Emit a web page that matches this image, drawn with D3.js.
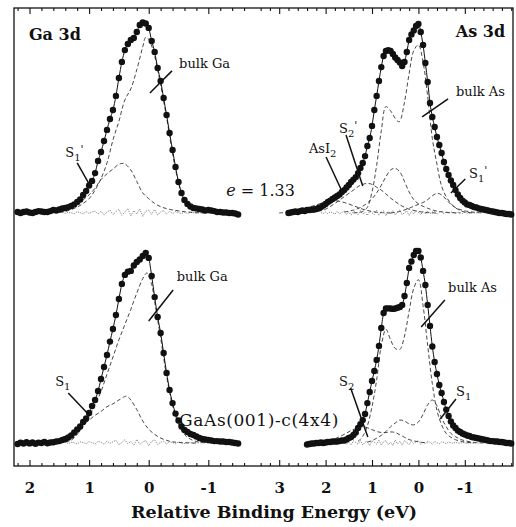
<!DOCTYPE html>
<html>
<head>
<meta charset="utf-8">
<script src="https://cdn.jsdelivr.net/npm/d3@7"></script>
<style>
  body { margin: 0; background: #fff; }
  text { font-family: "DejaVu Serif", "Liberation Serif", serif; fill: #111; }
  .tick text { font-family: "DejaVu Serif", serif; font-weight: bold; font-size: 15px; fill: #111; }
</style>
</head>
<body>
<script>
const width = 516;
const height = 527;

// energy grids (eV, relative binding energy), sampled every 0.05 eV
const step = 0.05;
const gaTopStart = 2.2, gaBotStart = 2.2, asTopStart = 2.8, asBotStart = 2.4;

// measured spectra (counts, arb. units)
const gaTopData = [0.5,0,0.5,0.8,0.3,0,0.5,1.0,0.8,0.5,0.5,1.0,1.6,1.3,1.8,
  2.4,2.6,3.1,3.7,4.5,5.8,7.1,9.4,11.5,14.4,
  16.8,20.9,27.2,31.9,37.7,43.5,49.2,53.9,61.3,70.7,
  79.1,85.3,88.5,90.6,91.6,94.8,98.4,99.7,99.2,96.9,
  90.1,84.3,75.9,69.1,60.2,51.3,41.9,33.0,24.1,16.2,
  10.5,6.8,4.7,3.4,2.6,2.4,2.1,1.8,1.3,1.6,
  1.3,1.0,0.5,0.5,0.3,0.3,0,0,-0.3,-0.8];

const gaBotData = [-0.5,0.2,-0.3,0.4,-0.2,0.3,-0.4,0.2,0,0.5,-0.1,0.3,0.4,0.8,1.0,
  1.6,2.1,2.9,3.9,5.5,7.1,8.6,11.0,12.8,15.7,
  19.4,22.5,27.2,33.5,39.8,46.1,53.1,59.7,67.0,75.4,
  83.3,88.0,89.7,90.1,92.9,94.8,96.1,97.9,99.5,96.9,
  87.4,76.4,66.0,57.6,47.1,36.7,27.8,20.9,15.4,11.8,
  8.6,6.8,5.8,4.7,4.2,3.4,2.6,2.1,1.8,1.6,
  1.3,1.0,1.0,0.8,0.8,0.5,0.5,0.3,0,-0.3];

const asTopData = [0,0.3,0.5,0.8,0.5,1.0,1.3,1.0,1.6,1.6,
  1.8,1.8,2.1,2.6,3.1,3.9,4.7,5.8,6.5,7.3,
  8.1,8.9,9.7,11.0,12.0,13.4,14.7,16.2,17.5,18.8,
  20.9,23.6,26.2,29.8,35.1,39.3,45.6,53.9,61.3,69.1,
  76.4,82.2,84.8,85.3,84.8,83.3,81.4,80.1,78.8,77.0,
  79.1,84.3,90.6,93.5,95.6,97.9,99.0,94.8,88.0,78.5,
  68.6,57.6,50.3,45.0,39.8,35.6,31.4,26.7,23.0,19.9,
  17.0,14.7,12.0,9.7,7.9,6.5,5.5,4.5,4.2,3.7,
  3.1,2.9,2.4,2.1,1.8,1.6,1.3,1.0,0.8,0.5,
  0.3,0,0,-0.3,-0.5,-0.5,-0.8];

const asBotData = [-0.8,-0.5,-0.3,-0.3,0,0,0.3,0,0.3,0.5,
  0.5,0.8,0.8,0.8,1.0,1.3,1.3,1.8,2.6,3.1,
  4.2,5.5,7.9,9.9,12.0,15.2,20.9,26.7,32.5,37.7,
  43.5,50.8,60.2,68.1,70.4,70.5,70.4,70.2,70.4,70.8,
  71.2,72.3,77.0,83.8,91.6,95.0,98.4,100.5,100.5,97.1,
  90.1,82.7,72.3,61.3,50.5,42.4,36.1,30.4,26.2,21.5,
  17.5,14.1,11.3,9.2,7.9,6.5,5.8,5.0,4.5,3.9,
  3.7,3.1,2.9,2.6,2.4,2.1,1.8,1.6,1.3,1.0,
  1.0,0.8,0.8,0.5,0.5,0.3,0,0,-0.3];

// fitted components [energy, counts]
const gaTopBulk = [[1.5,0.3],[1.4,0.8],[1.3,1.8],[1.2,3.1],[1.1,5],[1.0,7.5],[0.9,12],[0.8,18],[0.7,26.2],[0.6,38.2],[0.5,48],[0.4,59.2],[0.3,65],[0.2,75],[0.1,87],[0.05,92],[0,91],[-0.1,82],[-0.2,67],[-0.3,50],[-0.4,31],[-0.5,16],[-0.6,6.5],[-0.7,2.8],[-0.8,1.2],[-0.9,0.5],[-1.0,0.2],[-1.2,0]];
const gaTopS1 = [[1.6,0.3],[1.5,0.6],[1.4,1.2],[1.3,2.8],[1.2,4.8],[1.1,7],[1.0,9.5],[0.9,13],[0.8,17.5],[0.7,20.5],[0.6,23],[0.5,25.5],[0.43,26],[0.4,25.8],[0.3,22.5],[0.2,16.5],[0.1,10.5],[0,7.5],[-0.1,5],[-0.2,3.3],[-0.3,2.3],[-0.4,1.6],[-0.6,0.7],[-0.8,0.2],[-1.0,0]];

const asTopBulk = [[1.4,0],[1.3,0.3],[1.2,0.8],[1.1,3],[1.0,11],[0.9,25],[0.8,43],[0.7,55.7],[0.6,53.5],[0.5,49.5],[0.43,47.8],[0.4,48],[0.3,58],[0.2,73],[0.1,85],[0,88],[-0.1,79],[-0.2,61],[-0.3,39],[-0.4,25.5],[-0.5,14],[-0.6,8.5],[-0.7,5],[-0.8,2.7],[-0.9,1.3],[-1.0,0.5],[-1.2,0]];
const asTopS2 = [[2.3,0.3],[2.1,1.2],[2.0,2],[1.8,5],[1.6,8.5],[1.4,12],[1.25,14.5],[1.1,15.5],[1.0,15],[0.9,13.5],[0.8,12],[0.7,10],[0.6,7.8],[0.5,6],[0.4,4.3],[0.3,3],[0.2,2],[0,0.8],[-0.2,0.2],[-0.4,0]];
const asTopHump = [[1.6,0.5],[1.4,1.5],[1.2,3.5],[1.0,7.5],[0.9,10.5],[0.8,14.5],[0.7,19],[0.6,22.5],[0.5,23.4],[0.4,21.5],[0.3,16.5],[0.2,11],[0.1,7],[0,4.8],[-0.1,3.5],[-0.2,2.5],[-0.3,1.6],[-0.5,0.6],[-0.7,0.2],[-0.9,0]];
const asTopS1 = [[0.6,0],[0.4,0.8],[0.2,2.5],[0.1,3.5],[0,4.5],[-0.1,5.5],[-0.2,7],[-0.3,9],[-0.4,10.3],[-0.5,9.5],[-0.6,7],[-0.7,4.5],[-0.8,2.8],[-0.9,1.8],[-1.0,1.1],[-1.2,0.4],[-1.4,0]];
const asTopAsI2 = [[3.0,0],[2.7,0.8],[2.5,2],[2.3,3.5],[2.1,5],[1.9,6],[1.75,6.3],[1.6,5.5],[1.4,3.8],[1.2,2],[1.0,0.8],[0.8,0.2],[0.6,0]];

const gaBotBulk = [[1.4,0.5],[1.3,1.5],[1.2,4.5],[1.1,9],[1.0,14],[0.9,20],[0.8,27],[0.7,36],[0.6,45],[0.5,54],[0.4,62],[0.3,70],[0.2,78.5],[0.1,86],[0.03,89],[-0.05,83],[-0.1,74],[-0.2,55],[-0.3,35],[-0.4,19.5],[-0.5,10],[-0.6,4.5],[-0.7,2],[-0.8,0.8],[-0.9,0.3],[-1.0,0]];
const gaBotS1 = [[1.5,0.5],[1.4,1.5],[1.3,3.5],[1.2,6.5],[1.1,9.5],[1.0,12],[0.9,14.5],[0.8,16.5],[0.7,19],[0.6,20.5],[0.5,22.5],[0.37,24.5],[0.3,22.5],[0.2,17.5],[0.1,11.5],[0,7.2],[-0.1,4.5],[-0.2,2.6],[-0.3,1.4],[-0.4,0.6],[-0.6,0.1],[-0.8,0]];

const asBotBulk = [[1.3,0.8],[1.2,3.5],[1.1,9],[1.0,19],[0.9,33],[0.8,51],[0.7,59.5],[0.6,54],[0.5,49.5],[0.4,49],[0.3,56],[0.2,69],[0.1,81],[0,85.5],[-0.1,72],[-0.2,51],[-0.3,31],[-0.4,17],[-0.5,9.5],[-0.6,5],[-0.7,3],[-0.8,1.7],[-0.9,1.0],[-1.0,0.5],[-1.2,0]];
const asBotS1 = [[1.1,0.5],[1.0,1.2],[0.9,2.5],[0.8,4],[0.7,6],[0.6,8.5],[0.5,10.5],[0.4,12],[0.3,11.5],[0.2,10],[0.1,9.5],[0,11],[-0.1,15],[-0.2,20],[-0.3,22.5],[-0.4,19.5],[-0.5,13],[-0.6,8.5],[-0.7,5],[-0.8,3.3],[-0.9,2],[-1.0,1.2],[-1.2,0.3],[-1.4,0]];
const asBotS2 = [[2.2,0],[2.0,0.8],[1.8,2.2],[1.6,4.5],[1.45,6.5],[1.3,8],[1.2,8.5],[1.1,8],[1.0,7],[0.9,6],[0.8,5.5],[0.7,5.5],[0.6,5.8],[0.5,5.5],[0.4,4.3],[0.3,3],[0.2,1.8],[0,0.6],[-0.2,0]];

// fit residuals
const gaTopResStart = 1.45, asTopResStart = 2.1, gaBotResStart = 1.45, asBotResStart = 2.0;
const gaTopRes = [0.3,-0.2,0.4,0.1,-0.4,0.6,0.2,-0.5,0.8,-0.3,0.5,1.1,-0.6,0.9,-1.0,0.4,1.6,-0.8,0.7,1.9,-1.2,0.5,2.3,-1.5,1.2,-0.6,2.1,-1.8,0.9,1.5,-0.7,1.8,-1.1,0.6,1.2,-0.5,0.9,-0.4,0.7,0.2,-0.3,0.5,-0.2,0.3,0.1,-0.2,0.2,0,0.1];
const asTopRes = [0.2,-0.3,0.5,-0.4,0.6,0.1,-0.7,0.9,-0.5,0.3,1.0,-0.8,0.6,-1.1,0.8,0.4,-0.9,1.2,-0.6,0.3,-1.3,1.0,0.2,-0.8,1.4,-1.2,0.5,1.1,-1.5,0.7,-0.4,1.3,-1.0,0.6,1.5,-0.9,0.2,1.0,-1.3,0.8,-0.5,1.2,0.3,-0.9,0.9,-0.6,1.1,-0.3,0.5,0.9,-0.7,0.4,0.8,-0.4,0.6,-0.2,0.5,0.3,-0.3,0.4,0.1,-0.2,0.3,0,-0.1,0.2,0,0.1,0];
const gaBotRes = [0.2,0.5,-0.3,0.4,0.1,-0.5,0.6,0.3,-0.4,0.8,0.2,-0.6,0.9,0.4,-0.7,1.1,-0.2,0.6,1.4,-0.9,0.3,1.7,-0.4,0.8,-1.2,1.9,-0.6,0.5,1.3,-1.4,0.9,1.6,-0.8,0.4,1.0,-0.5,0.7,0.2,-0.4,0.6,0.1,-0.3,0.4,0.2,-0.2,0.3,0,0.1,0];
const asBotRes = [0.3,-0.2,0.5,0.1,-0.4,0.7,-0.3,0.4,0.9,-0.6,0.5,-0.9,1.1,0.2,-0.7,1.3,-1.0,0.4,0.8,-1.4,1.0,0.3,-0.6,1.5,-1.2,0.7,1.2,-0.9,0.4,-1.3,1.6,-0.5,0.9,-1.1,1.3,0.2,-0.8,1.0,-0.4,0.7,1.2,-0.7,0.5,-0.3,0.9,0.4,-0.6,0.8,0.2,-0.4,0.6,0.1,-0.3,0.5,0.2,-0.2,0.4,0,-0.1,0.3,0.1,-0.2,0.2,0,0.1,0,0];

// axis tick labels
const gaTickLabels = [2, 1, 0, -1];
const asTickLabels = [3, 2, 1, 0, -1];

// annotations: [text, sub, prime, energy, counts]
const gaTopLabels = [["bulk Ga", "", "", -0.51, 75.9], ["S", "1", "'", 1.40, 29.3]];
const gaTopLeaders = [[-0.39, 74.4, -0.02, 62.8], [1.20, 26.2, 0.97, 13.6]];
const asTopLabels = [["bulk As", "", "", -0.81, 61.3], ["S", "2", "'", 1.71, 41.9], ["AsI", "2", "", 2.36, 31.4], ["S", "1", "'", -1.09, 18.3]];
const asTopLeaders = [[-0.64, 59.7, -0.08, 50.3], [1.56, 40.8, 1.20, 14.1], [1.99, 29.3, 1.63, 10.5], [-1.01, 17.8, -0.70, 10.5]];
const gaBotLabels = [["bulk Ga", "", "", -0.47, 84.8], ["S", "1", "", 1.57, 29.8]];
const gaBotLeaders = [[-0.41, 80.1, 0.0, 63.9], [1.35, 26.2, 1.0, 14.7]];
const asBotLabels = [["bulk As", "", "", -0.64, 79.1], ["S", "2", "", 1.71, 29.8], ["S", "1", "", -0.81, 24.6]];
const asBotLeaders = [[-0.57, 74.9, -0.06, 60.7], [1.46, 28.8, 1.09, 3.1], [-0.81, 23.0, -0.47, 12.6]];

const svg = d3.select("body")
  .append("svg")
  .attr("width", width)
  .attr("height", height);

const frameLeft = 14, frameRight = 513, frameTop = 8, frameBottom = 466, split = 256;

const xGa = d3.scaleLinear().domain([2.26, -1.8]).range([frameLeft, split]);
const xAs = d3.scaleLinear().domain([3.5, -2.06]).range([split, 514]);
const yTop = d3.scaleLinear().domain([0, 100]).range([213, 22]);
const yBot = d3.scaleLinear().domain([0, 100]).range([443, 252]);

function grid(start, values) {
  return values.map((v, i) => [+(start - i * step).toFixed(2), v]);
}

function drawPanel(x, y, data, comps, resid) {
  const g = svg.append("g");
  const line = d3.line().x(d => x(d[0])).y(d => y(d[1]));

  g.append("path")
    .datum(resid)
    .attr("fill", "none")
    .attr("stroke", "#666")
    .attr("stroke-width", 0.8)
    .attr("stroke-dasharray", "1.2,1.2")
    .attr("d", line);

  const smooth = d3.line().x(d => x(d[0])).y(d => y(d[1])).curve(d3.curveCatmullRom);
  comps.forEach(c => {
    g.append("path")
      .datum(c)
      .attr("fill", "none")
      .attr("stroke", "#333")
      .attr("stroke-width", 0.9)
      .attr("stroke-dasharray", "4,2.5")
      .attr("d", smooth);
  });

  g.append("path")
    .datum(data)
    .attr("fill", "none")
    .attr("stroke", "#111")
    .attr("stroke-width", 1)
    .attr("d", d3.line().x(d => x(d[0])).y(d => y(d[1])).curve(d3.curveMonotoneX));

  g.selectAll("circle")
    .data(data)
    .enter().append("circle")
    .attr("cx", d => x(d[0]))
    .attr("cy", d => y(d[1]))
    .attr("r", 3.2)
    .attr("fill", "#111");
}

function drawNotes(x, y, labels, leaders) {
  leaders.forEach(l => {
    svg.append("line")
      .attr("x1", x(l[0])).attr("y1", y(l[1]))
      .attr("x2", x(l[2])).attr("y2", y(l[3]))
      .attr("stroke", "#111")
      .attr("stroke-width", 1.5);
  });
  labels.forEach(l => {
    const t = svg.append("text")
      .attr("x", x(l[3]))
      .attr("y", y(l[4]))
      .style("font-size", "13px")
      .text(l[0]);
    if (l[1]) {
      t.append("tspan").attr("dy", 4).style("font-size", "10px").text(l[1]);
      if (l[2]) t.append("tspan").attr("dy", -8).style("font-size", "11px").text(l[2]);
    }
  });
}

drawPanel(xGa, yTop, grid(gaTopStart, gaTopData), [gaTopBulk, gaTopS1], grid(gaTopResStart, gaTopRes));
drawPanel(xAs, yTop, grid(asTopStart, asTopData), [asTopBulk, asTopS2, asTopHump, asTopS1, asTopAsI2], grid(asTopResStart, asTopRes));
drawPanel(xGa, yBot, grid(gaBotStart, gaBotData), [gaBotBulk, gaBotS1], grid(gaBotResStart, gaBotRes));
drawPanel(xAs, yBot, grid(asBotStart, asBotData), [asBotBulk, asBotS1, asBotS2], grid(asBotResStart, asBotRes));

drawNotes(xGa, yTop, gaTopLabels, gaTopLeaders);
drawNotes(xAs, yTop, asTopLabels, asTopLeaders);
drawNotes(xGa, yBot, gaBotLabels, gaBotLeaders);
drawNotes(xAs, yBot, asBotLabels, asBotLeaders);

// panel titles and sample notes
svg.append("text")
  .attr("x", xGa(2.01)).attr("y", yTop(90.6))
  .style("font-size", "16px").style("font-weight", "bold")
  .text("Ga 3d");

svg.append("text")
  .attr("x", xAs(-1.87)).attr("y", yTop(92.4))
  .attr("text-anchor", "end")
  .style("font-size", "16px").style("font-weight", "bold")
  .text("As 3d");

const eText = svg.append("text")
  .attr("x", xGa(-1.30)).attr("y", yTop(8.9))
  .style("font-size", "16px");
eText.append("tspan").style("font-style", "italic").text("e");
eText.append("tspan").text(" = 1.33");

svg.append("text")
  .attr("x", xGa(-0.51)).attr("y", yBot(8.9))
  .style("font-size", "17px")
  .style("letter-spacing", "0.6px")
  .text("GaAs(001)-c(4x4)");

// axes: inward ticks on top and bottom, 0.2 eV minor, 1 eV major
function ticksIn(scale, lo, hi) {
  return scale.ticks(30).filter(t => {
    const p = scale(t);
    return p > lo + 1 && p < hi - 1 && Math.abs(t * 5 - Math.round(t * 5)) < 1e-6;
  });
}

[[xGa, gaTickLabels, frameLeft, split], [xAs, asTickLabels, split, frameRight]].forEach(([sc, majors, lo, hi]) => {
  const minors = ticksIn(sc, lo, hi).filter(t => !majors.includes(Math.round(t * 10) / 10));

  svg.append("g")
    .attr("transform", `translate(0,${frameBottom})`)
    .call(d3.axisBottom(sc).tickValues(minors).tickSize(-3).tickFormat(""))
    .call(a => a.select(".domain").remove());
  svg.append("g")
    .attr("transform", `translate(0,${frameBottom})`)
    .call(d3.axisBottom(sc).tickValues(majors).tickSize(-6).tickPadding(16).tickFormat(d => String(d)))
    .call(a => a.select(".domain").remove());

  svg.append("g")
    .attr("transform", `translate(0,${frameTop})`)
    .call(d3.axisTop(sc).tickValues(minors).tickSize(-3).tickFormat(""))
    .call(a => a.select(".domain").remove());
  svg.append("g")
    .attr("transform", `translate(0,${frameTop})`)
    .call(d3.axisTop(sc).tickValues(majors).tickSize(-6).tickFormat(""))
    .call(a => a.select(".domain").remove());
});

svg.selectAll(".tick line").attr("stroke", "#111").attr("stroke-width", 1.1);

svg.append("rect")
  .attr("x", frameLeft).attr("y", frameTop)
  .attr("width", frameRight - frameLeft).attr("height", frameBottom - frameTop)
  .attr("fill", "none")
  .attr("stroke", "#111")
  .attr("stroke-width", 1.3);

svg.append("text")
  .attr("x", 274).attr("y", 518)
  .attr("text-anchor", "middle")
  .style("font-size", "17.5px").style("font-weight", "bold")
  .text("Relative Binding Energy (eV)");
</script>
</body>
</html>
